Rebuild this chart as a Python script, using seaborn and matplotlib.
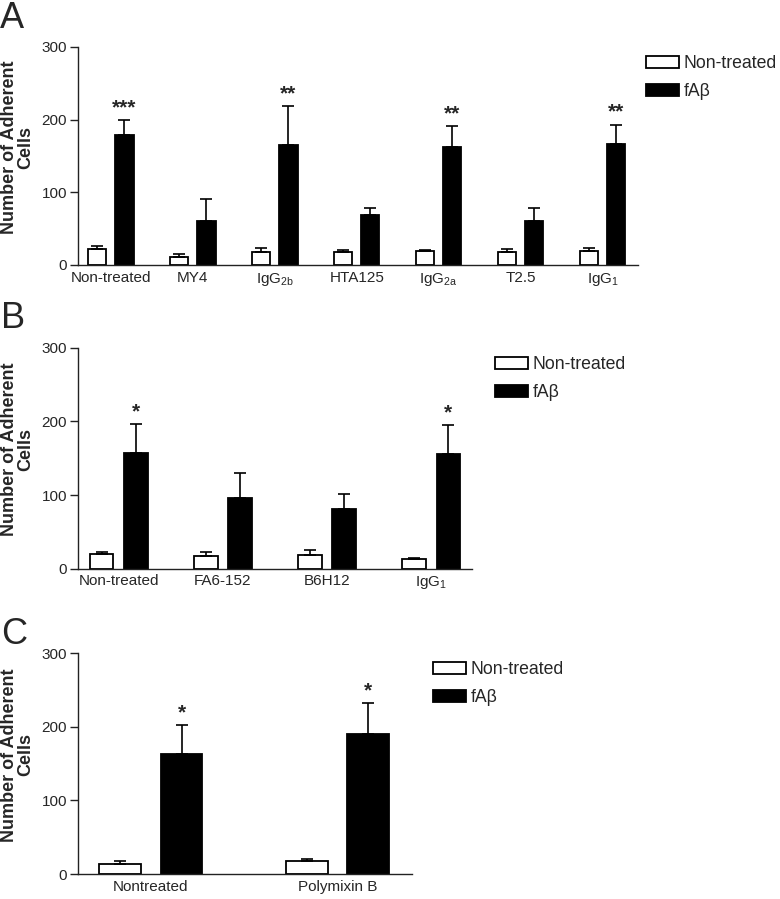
import matplotlib
matplotlib.use("Agg")
import matplotlib.pyplot as plt
import seaborn as sns
import pandas as pd

# ---------------- data ----------------
series = ["Non-treated", "fA\u03b2"]

a_groups = ["Non-treated", "MY4", "IgG$_{\\mathrm{2b}}$", "HTA125", "IgG$_{\\mathrm{2a}}$", "T2.5", "IgG$_{\\mathrm{1}}$"]
a_nt = [22, 11, 18, 18, 19, 18, 19]
a_nt_err = [3.5, 4.5, 6, 2.5, 2, 4, 4]
a_fab = [179, 60, 165, 69, 163, 61, 167]
a_fab_err = [20, 31, 54, 9, 28, 17, 26]
a_stars = ["***", "", "**", "", "**", "", "**"]

b_groups = ["Non-treated", "FA6-152", "B6H12", "IgG$_{\\mathrm{1}}$"]
b_nt = [19.5, 17, 18, 12.7]
b_nt_err = [3.5, 5, 7, 2.5]
b_fab = [157.5, 96, 81, 156]
b_fab_err = [38.5, 34, 21, 39]
b_stars = ["*", "", "", "*"]

c_groups = ["Nontreated", "Polymixin B"]
c_nt = [14, 17]
c_nt_err = [3, 4]
c_fab = [163.5, 190]
c_fab_err = [38.5, 42]
c_stars = ["*", "*"]

yticks = [0, 100, 200, 300]
ylabel = "Number of Adherent\nCells"

# ---------------- style ----------------
sns.set_theme(style="ticks")
plt.rcParams["font.family"] = ["Liberation Sans", "DejaVu Sans"]
plt.rcParams["mathtext.fontset"] = "custom"
plt.rcParams["mathtext.rm"] = "Liberation Sans"
plt.rcParams["mathtext.it"] = "Liberation Sans:italic"
plt.rcParams["mathtext.bf"] = "Liberation Sans:bold"

W, H = 780, 899
fig = plt.figure(figsize=(W / 100, H / 100), dpi=100)


def px_axes(left, right, top, bottom):
    return fig.add_axes([left / W, 1 - bottom / H, (right - left) / W, (bottom - top) / H])


def panel(ax, groups, nt, nt_err, fab, fab_err, stars, xlim, legend_xy, ax_w_px):
    df = pd.DataFrame({
        "group": groups * 2,
        "series": [series[0]] * len(groups) + [series[1]] * len(groups),
        "value": list(nt) + list(fab),
    })
    errs = [list(nt_err), list(fab_err)]
    sns.barplot(data=df, x="group", y="value", hue="series", order=groups,
                hue_order=series, palette={series[0]: "white", series[1]: "black"},
                edgecolor="black", linewidth=1.3, width=0.66, gap=0.32,
                errorbar=None, ax=ax)
    bar_conts = list(ax.containers)
    for ci, cont in enumerate(bar_conts):
        for bi, bar in enumerate(cont.patches):
            xc = bar.get_x() + bar.get_width() / 2
            h = bar.get_height()
            e = errs[ci][bi]
            ax.errorbar([xc], [h], yerr=[[0], [e]], fmt="none", ecolor="black",
                        elinewidth=1.2, capsize=4.3, capthick=1.2, zorder=1)
            if ci == 1 and stars[bi]:
                ax.annotate(stars[bi], (xc, h + e), xytext=(0, 5), textcoords="offset points",
                            ha="center", va="baseline", fontsize=15, fontweight="bold")
    ax.set_ylim(0, 300)
    ax.set_xlim(*xlim)
    ax.set_yticks(yticks)
    ax.set_xlabel("")
    ax.set_ylabel(ylabel, fontsize=13, fontweight="bold", linespacing=0.95)
    ax.yaxis.set_label_coords((34 - 78) / ax_w_px, 0.54)
    for s in ["top", "right"]:
        ax.spines[s].set_visible(False)
    for s in ["left", "bottom"]:
        ax.spines[s].set_linewidth(1.0)
        ax.spines[s].set_color("#222222")
    ax.tick_params(axis="y", length=6, width=1.0, labelsize=11, pad=2, color="#222222")
    ax.tick_params(axis="x", length=0, labelsize=11, pad=4)
    handles, labels = ax.get_legend_handles_labels()
    ax.legend(handles, labels, loc="upper left",
              bbox_to_anchor=(legend_xy[0] / W, 1 - legend_xy[1] / H),
              bbox_transform=fig.transFigure, frameon=False, fontsize=12.7,
              handlelength=1.85, handleheight=0.7, handletextpad=0.3,
              labelspacing=0.65, borderpad=0, borderaxespad=0)


axA = px_axes(78, 638, 47, 265)
panel(axA, a_groups, a_nt, a_nt_err, a_fab, a_fab_err, a_stars, (-0.40, 6.43), (646, 55), 560)

axB = px_axes(78, 472, 347.7, 568.7)
panel(axB, b_groups, b_nt, b_nt_err, b_fab, b_fab_err, b_stars, (-0.394, 3.394), (495, 356), 394)

axC = px_axes(78, 412, 653.3, 874)
panel(axC, c_groups, c_nt, c_nt_err, c_fab, c_fab_err, c_stars, (-0.39, 1.40), (433, 661), 334)

fig.text(0 / W, 1 - 28 / H, "A", fontsize=26, va="baseline", ha="left")
fig.text(1 / W, 1 - 328 / H, "B", fontsize=26, va="baseline", ha="left")
fig.text(1 / W, 1 - 644 / H, "C", fontsize=26, va="baseline", ha="left")

fig.savefig("out.png", dpi=100)
